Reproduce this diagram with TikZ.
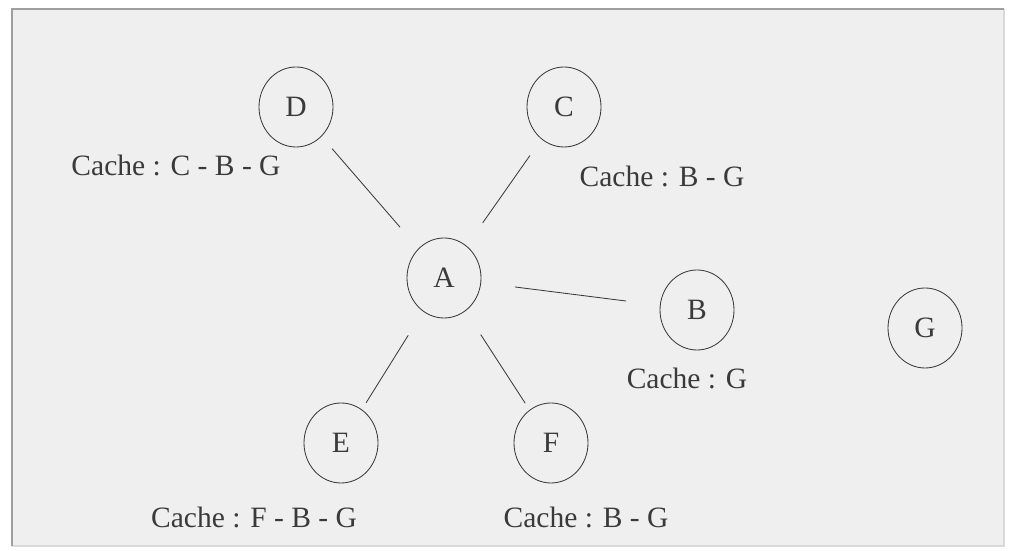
\documentclass[tikz,border=0pt]{standalone}
\usepackage{fontspec}
\setmainfont{Liberation Serif}
\usetikzlibrary{positioning,shapes.geometric}

\definecolor{paper}{HTML}{EFEFEF}
\definecolor{ink}{HTML}{3A3A3A}

\begin{document}
\begin{tikzpicture}[peer/.style={ellipse,draw=ink,line width=0.6pt,minimum width=1.85cm,minimum height=2cm,inner sep=0pt,text=ink,font=\fontsize{21}{25}\selectfont},
                    cache/.style={text=ink,font=\fontsize{21}{25}\selectfont,inner sep=0pt},
                    link/.style={draw=ink,line width=0.6pt}]
            \useasboundingbox (0,0) rectangle (25.225,13.775);
            % frame
            \fill[paper] (0.3,0.125) rectangle (25.1,13.55);
            \draw[gray!30,line width=1pt] (0.3,0.125) -- (25.1,0.125) -- (25.1,13.55);
            \draw[gray!75,line width=1.2pt] (0.3,0.125) -- (0.3,13.55) -- (25.1,13.55);
            
            \node[peer] (d) at (7.4, 11.1) {D};
            \node[peer] (c) at (14.1, 11.1) {C};
            \node[peer] (a) at (11.1, 6.825) {A};
            \node[peer] (b) at (17.425, 6.025) {B};
            \node[peer] (g) at (23.125, 5.575) {G};
            \node[peer] (e) at (8.525, 2.7) {E};
            \node[peer] (f) at (13.775, 2.7) {F};
            
            \node[cache] (cd) at (4.4, 9.65) {Cache : C - B - G};
            \node[cache] (cc) at (16.55, 9.375) {Cache : B - G};
            \node[cache] (cb) at (17.175, 4.325) {Cache : G};
            \node[cache] (ce) at (6.35, 0.85) {Cache : F - B - G};
            \node[cache] (cf) at (14.65, 0.85) {Cache : B - G};
            
            \draw[link,shorten <=0.4cm,shorten >=0.7cm] (d) -- (a);
            \draw[link,shorten <=0.5cm,shorten >=0.7cm] (c) -- (a);
            \draw[link,shorten <=0.85cm,shorten >=0.85cm] (a) -- (b);
            \draw[link,shorten <=0.7cm,shorten >=0.2cm] (a) -- (e);
            \draw[link,shorten <=0.7cm,shorten >=0.2cm] (a) -- (f);
        \end{tikzpicture}
\end{document}
